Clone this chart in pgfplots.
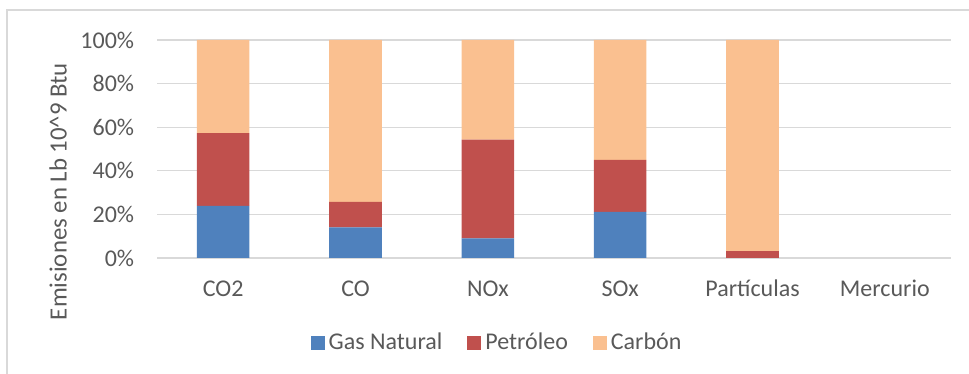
\documentclass[border=0pt]{standalone}
\usepackage{fontspec}
\setmainfont{Carlito}
\usepackage{pgfplots}
\pgfplotsset{compat=1.18}
\definecolor{gasnat}{HTML}{4F81BD}
\definecolor{petrol}{HTML}{C0504D}
\definecolor{carbon}{HTML}{FAC090}
\definecolor{txt}{HTML}{595959}
\definecolor{gridc}{HTML}{D9D9D9}

\begin{document}
\fontsize{24}{28}\selectfont
\begin{tikzpicture}[x=1pt,y=1pt]
\useasboundingbox (0,0) rectangle (969,374);
% chart area frame (top and left edges)
\draw[gridc, line width=1.2pt] (7,0) -- (7,364) -- (969,364);
\begin{axis}[
  at={(157pt,116pt)}, anchor=south west,
  scale only axis, width=794pt, height=218pt,
  ybar stacked, bar width=52.6pt,
  xmin=-0.5, xmax=5.5, ymin=0, ymax=100,
  xtick={0,...,5},
  xticklabels={CO2,CO,NOx,SOx,Partículas,Mercurio},
  ytick={0,20,...,100},
  yticklabel={\pgfmathprintnumber{\tick}\%},
  /pgf/number format/assume math mode=true,
  axis line style={draw=none},
  major tick length=0pt,
  ymajorgrids, grid style={gridc, line width=1.3pt},
  tick label style={font=\fontsize{24}{28}\selectfont, text=txt},
  yticklabel style={anchor=east, inner sep=0pt, xshift=-22.7pt},
  xticklabel style={anchor=base, inner sep=0pt, yshift=-39pt},
  ylabel={Emisiones en Lb 10\^{}9 Btu},
  ylabel style={at={(axis description cs:-0.1247,0.305)}, anchor=center,
    rotate=0, font=\fontsize{24.8}{28}\selectfont, text=txt},
  every axis plot post/.append style={
    legend image code/.code={\fill[##1] (0pt,-7pt) rectangle (14pt,7pt);}},
  legend columns=3,
  legend style={at={(axis description cs:0.4295,-0.39)}, anchor=center,
    draw=none, fill=none, inner sep=0pt,
    font=\fontsize{24}{28}\selectfont, text=txt,
    nodes={inner xsep=4pt, inner ysep=0pt},
    /tikz/every even column/.append style={column sep=21pt}},
]
\addplot[fill=gasnat, draw=none] coordinates {(0,23.9) (1,14.1) (2,9.0) (3,21.2) (4,0) (5,0)};
\addplot[fill=petrol, draw=none] coordinates {(0,33.4) (1,11.7) (2,45.3) (3,23.8) (4,3.1) (5,0)};
\addplot[fill=carbon, draw=none] coordinates {(0,42.7) (1,74.2) (2,45.7) (3,55.0) (4,96.9) (5,0)};
\legend{Gas Natural, Petróleo, Carbón}
\end{axis}
\end{tikzpicture}
\end{document}
